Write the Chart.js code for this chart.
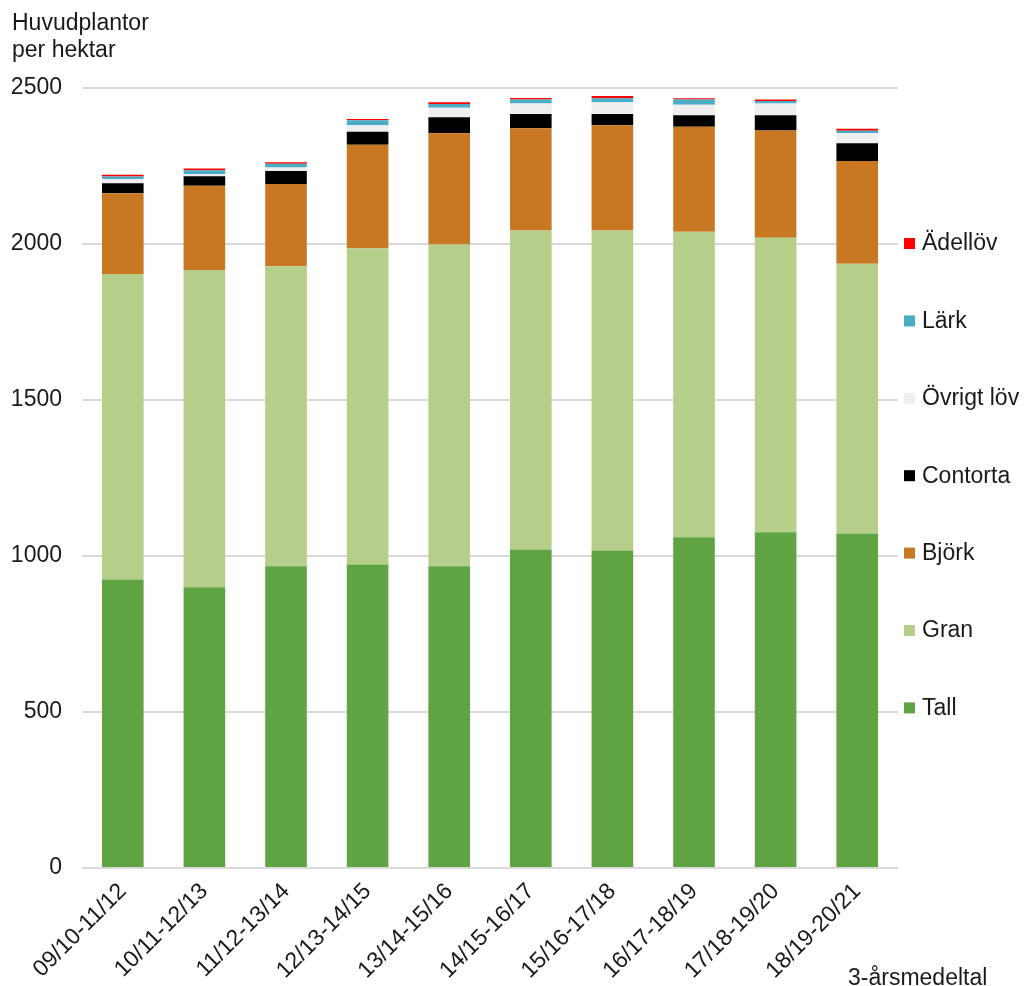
<!DOCTYPE html>
<html>
<head>
<meta charset="utf-8">
<script src="https://cdn.jsdelivr.net/npm/chart.js@4.4.1/dist/chart.umd.min.js"></script>
<style>
  body { margin: 0; background: #fff; font-family: "Liberation Sans", Arial, sans-serif; }
  #wrap { position: relative; width: 1024px; height: 986px; overflow: hidden; }
  .note { position: absolute; font-size: 23px; color: #1a1a1a; line-height: 27px; white-space: nowrap; }
</style>
</head>
<body>
<div id="wrap">
  <canvas id="chart" width="1024" height="986"></canvas>
  <div class="note" style="left:12px; top:9px;">Huvudplantor<br>per hektar</div>
  <div class="note" style="left:848px; top:964px;">3-årsmedeltal</div>
</div>
<script>
const periods = ["09/10-11/12", "10/11-12/13", "11/12-13/14", "12/13-14/15", "13/14-15/16",
  "14/15-16/17", "15/16-17/18", "16/17-18/19", "17/18-19/20", "18/19-20/21"];

const tall = [925, 900, 967, 973, 967, 1021, 1018, 1060, 1076, 1072];
const gran = [979, 1017, 962, 1013, 1031, 1022, 1025, 979, 944, 865];
const bjork = [259, 270, 263, 332, 357, 328, 338, 337, 344, 329];
const contorta = [32, 30, 42, 42, 51, 46, 36, 37, 49, 57];
const ovrigtLov = [13, 7, 11, 21, 31, 33, 37, 33, 37, 32];
const lark = [8, 12, 12, 16, 12, 13, 13, 17, 8, 8];
const adellov = [6, 6, 5, 4, 5, 5, 7, 4, 5, 6];

const yTicks = [0, 500, 1000, 1500, 2000, 2500];

const series = [
  { label: "Tall", data: tall, color: "#5fa343" },
  { label: "Gran", data: gran, color: "#b5cf8a" },
  { label: "Björk", data: bjork, color: "#c87722" },
  { label: "Contorta", data: contorta, color: "#000000" },
  { label: "Övrigt löv", data: ovrigtLov, color: "#efefef" },
  { label: "Lärk", data: lark, color: "#4bacc6" },
  { label: "Ädellöv", data: adellov, color: "#ff0000" },
];

// legend on the right, top entry is the last series
const sideLegend = {
  id: "sideLegend",
  afterDraw(chart) {
    const ctx = chart.ctx;
    const sets = chart.data.datasets;
    ctx.save();
    ctx.font = "23px 'Liberation Sans', Arial, sans-serif";
    ctx.textBaseline = "middle";
    for (let i = 0; i < sets.length; i++) {
      const ds = sets[sets.length - 1 - i];
      const y = 243 + i * 77.4;
      const x = chart.chartArea.right + 6;
      ctx.fillStyle = ds.backgroundColor;
      ctx.fillRect(x, y - 5, 11, 11);
      ctx.fillStyle = "#1a1a1a";
      ctx.fillText(ds.label, x + 18, y + 1);
    }
    ctx.restore();
  }
};

Chart.defaults.font.family = "'Liberation Sans', Arial, sans-serif";
Chart.defaults.color = "#1a1a1a";

new Chart(document.getElementById("chart"), {
  type: "bar",
  data: {
    labels: periods,
    datasets: series.map((s) => ({
      label: s.label,
      data: s.data,
      backgroundColor: s.color,
      borderWidth: 0,
      barPercentage: 0.51,
      categoryPercentage: 1,
    })),
  },
  options: {
    responsive: false,
    animation: false,
    devicePixelRatio: 1,
    layout: { padding: { left: 10, right: 126, top: 88, bottom: 8 } },
    plugins: { legend: { display: false }, tooltip: { enabled: false } },
    scales: {
      x: {
        stacked: true,
        grid: { display: false },
        border: { display: false },
        ticks: { font: { size: 23 }, minRotation: 45, maxRotation: 45, padding: 2 },
        afterFit: (axis) => { axis.height = 110; axis.paddingLeft = 0; axis.paddingRight = 0; },
      },
      y: {
        stacked: true,
        min: 0,
        max: 2500,
        afterBuildTicks: (axis) => { axis.ticks = yTicks.map((v) => ({ value: v })); },
        afterFit: (axis) => { axis.width = 72; },
        grid: { color: "#d9d9d9", lineWidth: 2, drawTicks: false },
        border: { display: false },
        ticks: { font: { size: 23 }, padding: 20, callback: (v) => String(v) },
      },
    },
  },
  plugins: [sideLegend],
});
</script>
</body>
</html>
